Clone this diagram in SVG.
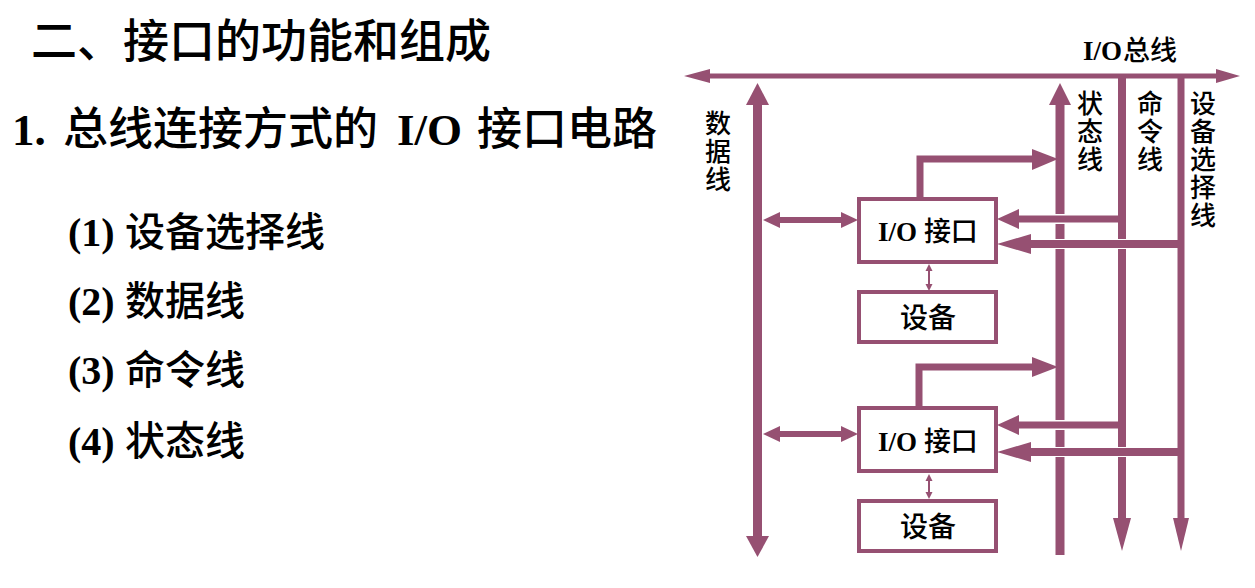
<svg xmlns="http://www.w3.org/2000/svg" width="1255" height="588" viewBox="0 0 1255 588">
<style>
.c{fill:none;stroke:#965072}
.h{fill:#965072}
.w{fill:#ffffff}
.box{fill:#ffffff;stroke:#965072;stroke-width:4}
.cj{font-family:"Noto Sans CJK SC","Noto Sans",sans-serif;font-weight:500;fill:#000}
.lt{font-family:"Liberation Serif",serif;font-weight:bold;fill:#000}
.v{writing-mode:vertical-rl;font-size:26px;letter-spacing:2px}
</style>
<rect width="1255" height="588" fill="#ffffff"/>
<g id="title">
<text class="cj" x="31" y="57" font-size="46">二、接口的功能和组成</text>
<text class="cj" y="145" font-size="45"><tspan class="lt" x="12">1.</tspan><tspan x="63">总线连接方式的</tspan><tspan class="lt" x="397">I/O</tspan><tspan x="477">接口电路</tspan></text>
</g>
<g id="list">
<text class="cj" y="246" font-size="40"><tspan class="lt" x="68">(1)</tspan><tspan x="125">设备选择线</tspan></text>
<text class="cj" y="315" font-size="40"><tspan class="lt" x="68">(2)</tspan><tspan x="125">数据线</tspan></text>
<text class="cj" y="384" font-size="40"><tspan class="lt" x="68">(3)</tspan><tspan x="125">命令线</tspan></text>
<text class="cj" y="455" font-size="40"><tspan class="lt" x="68">(4)</tspan><tspan x="125">状态线</tspan></text>
</g>
<g id="connectors">
<line class="c" x1="706" y1="76" x2="1220" y2="76" stroke-width="5"/>
<polygon class="h" points="684,76 710,69 710,83"/>
<polygon class="h" points="1240,76 1216,69 1216,83"/>
<line class="c" x1="757.5" y1="103" x2="757.5" y2="538" stroke-width="9"/>
<polygon class="h" points="757.5,83 746,105 769,105"/>
<polygon class="h" points="757.5,557 746,536 769,536"/>
<line class="c" x1="1060" y1="103" x2="1060" y2="555" stroke-width="9"/>
<polygon class="h" points="1060,83 1049,105 1071,105"/>
<line class="c" x1="1122" y1="74" x2="1122" y2="520" stroke-width="8"/>
<polygon class="h" points="1122,551 1113,518 1131,518"/>
<line class="c" x1="1181" y1="74" x2="1181" y2="520" stroke-width="7"/>
<polygon class="h" points="1181,551 1173,518 1189,518"/>
<rect class="w" x="1054" y="214" width="12" height="10"/>
<rect class="w" x="1054" y="239" width="12" height="10"/>
<rect class="w" x="1116" y="239" width="12" height="10"/>
<rect class="w" x="1054" y="420" width="12" height="10"/>
<rect class="w" x="1054" y="447" width="12" height="10"/>
<rect class="w" x="1116" y="447" width="12" height="10"/>
<polyline class="c" points="920,199 920,159 1034,159" stroke-width="7" stroke-linejoin="miter"/>
<polygon class="h" points="1058,159 1032,149 1032,170"/>
<polyline class="c" points="919,408 919,367 1034,367" stroke-width="7" stroke-linejoin="miter"/>
<polygon class="h" points="1058,367 1032,357 1032,377"/>
<line class="c" x1="777" y1="220" x2="843" y2="220" stroke-width="6"/>
<polygon class="h" points="763,220 780,212 780,228"/>
<polygon class="h" points="858,220 841,212 841,228"/>
<line class="c" x1="777" y1="434" x2="843" y2="434" stroke-width="6"/>
<polygon class="h" points="763,434 780,426 780,442"/>
<polygon class="h" points="858,434 841,426 841,442"/>
<line class="c" x1="1122" y1="219" x2="1016" y2="219" stroke-width="7"/>
<polygon class="h" points="997,219 1019,209 1019,229"/>
<line class="c" x1="1181" y1="244" x2="1028" y2="244" stroke-width="8"/>
<polygon class="h" points="997,244 1031,234 1031,254"/>
<line class="c" x1="1122" y1="425" x2="1016" y2="425" stroke-width="7"/>
<polygon class="h" points="997,425 1019,415 1019,435"/>
<line class="c" x1="1181" y1="452" x2="1028" y2="452" stroke-width="8"/>
<polygon class="h" points="997,452 1031,442 1031,462"/>
<line class="c" x1="929" y1="269" x2="929" y2="287" stroke-width="2"/>
<polygon class="h" points="929,264 925.5,271 932.5,271"/>
<polygon class="h" points="929,291 925.5,284 932.5,284"/>
<line class="c" x1="929" y1="479" x2="929" y2="495" stroke-width="2"/>
<polygon class="h" points="929,474 925.5,481 932.5,481"/>
<polygon class="h" points="929,499 925.5,492 932.5,492"/>
</g>
<g id="bus-labels">
<text y="60" font-size="27"><tspan class="lt" x="1083">I/O</tspan><tspan class="cj" x="1123">总线</tspan></text>
<text class="cj v" x="718" y="110">数据线</text>
<text class="cj v" x="1090" y="90">状态线</text>
<text class="cj v" x="1150" y="90">命令线</text>
<text class="cj v" x="1203" y="90">设备选择线</text>
</g>
<g id="box1">
<rect class="box" x="859" y="199" width="137" height="63"/>
<text x="928" y="241" font-size="27" text-anchor="middle"><tspan class="lt">I/O </tspan><tspan class="cj">接口</tspan></text>
</g>
<g id="dev1">
<rect class="box" x="859" y="292" width="137" height="50"/>
<text class="cj" x="928" y="328" font-size="28" text-anchor="middle">设备</text>
</g>
<g id="box2">
<rect class="box" x="859" y="408" width="137" height="63"/>
<text x="928" y="451" font-size="27" text-anchor="middle"><tspan class="lt">I/O </tspan><tspan class="cj">接口</tspan></text>
</g>
<g id="dev2">
<rect class="box" x="859" y="501" width="137" height="50"/>
<text class="cj" x="928" y="537" font-size="28" text-anchor="middle">设备</text>
</g>
</svg>
